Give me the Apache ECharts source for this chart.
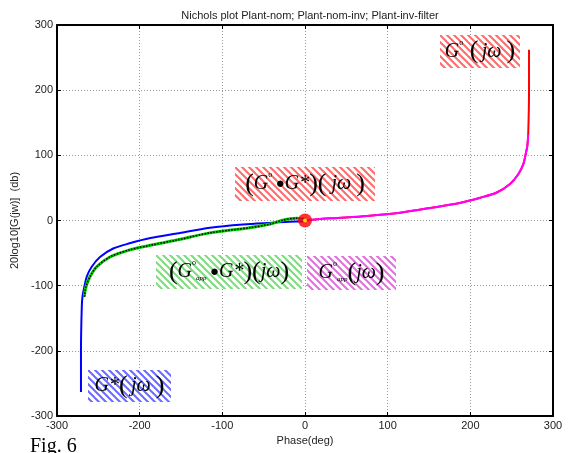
<!DOCTYPE html>
<html>
<head>
<meta charset="utf-8">
<script src="https://cdn.jsdelivr.net/npm/echarts@6/dist/echarts.min.js"></script>
<style>
  html, body { margin: 0; padding: 0; background: #fff; }
  #chart { width: 570px; height: 453px; }
</style>
</head>
<body>
<div id="chart"></div>
<script>
// ---- data ----
// G*(jw) : blue
const bluePhase = [-271, -271, -270, -269, -267, -264, -258, -248, -232, -212, -187, -155, -115, -75, -40, -10, 0]
const blueMag = [-263, -200, -132, -115, -102, -86, -71, -56, -43, -35, -27, -20, -11, -6, -3.5, -1.5, -1.5]

// (G_app * G*)(jw) : green dotted
const greenPhase = [-267, -265, -260, -252, -236, -212, -187, -155, -115, -67, -42, -27, -10, 0]
const greenMag = [-117, -102, -86, -71, -56, -45, -38, -30, -19, -11, -5.5, 0.5, 3.5, 2]

// G(jw) : red
const redPhase = [0, 15, 40, 75, 115, 155, 187, 212, 232, 248, 258, 264, 267, 269, 270, 271, 271]
const redMag = [0, 2, 4, 7, 12, 20, 27, 35, 43, 56, 71, 86, 102, 115, 132, 200, 262]

// G_app(jw) : magenta, same path as red on the lower part
const magentaCount = 15

// point where they meet
const meetPoint = [0, 0]

// annotations: top-left corner in data units
const noteNames = ['G', 'GG', 'GappG', 'Gapp', 'Gstar']
const notePhase = [163, -85, -180, 3, -262]
const noteMag = [285, 82, -53, -55, -229]
const noteWidth = [80, 140, 146, 89, 83]
const noteHeight = [33, 34, 34, 34, 32]

const pairs = (xs, ys) => xs.map((x, i) => [x, ys[i]])

// ---- hatch pattern ----
function hatch(color) {
  const c = document.createElement('canvas')
  c.width = 7
  c.height = 7
  const ctx = c.getContext('2d')
  ctx.fillStyle = '#fff'
  ctx.fillRect(0, 0, 7, 7)
  ctx.strokeStyle = color
  ctx.lineWidth = 2
  for (let k = -7; k <= 7; k += 7) {
    ctx.beginPath()
    ctx.moveTo(k - 1, -1)
    ctx.lineTo(k + 8, 8)
    ctx.stroke()
  }
  return { image: c, repeat: 'repeat' }
}

const SERIF = '"Liberation Serif", "DejaVu Serif", serif'
const SANS = '"Liberation Sans", Arial, sans-serif'
const rich = {
  g: { fontFamily: SERIF, fontStyle: 'italic', fontSize: 20, color: '#111' },
  s: { fontFamily: SERIF, fontSize: 8, color: '#555', verticalAlign: 'top', padding: [0, 0, 12, 0] },
  a: { fontFamily: SERIF, fontStyle: 'italic', fontSize: 7, color: '#555', padding: [12, 0, 0, 0] },
  p: { fontFamily: SERIF, fontSize: 26, color: '#111' },
  d: { fontFamily: SERIF, fontSize: 15, color: '#000' }
}
const noteText = {
  G: '{g|G}{s|o}{p| (} {g|jω }{p|)}',
  GG: '{p|(}{g|G}{s|o} {d|●}{g|G*}{p|)(}{g| jω }{p|)}',
  GappG: '{p|(}{g|G}{s|o}{a|app} {d|●}{g|G*}{p|)(}{g|jω}{p|)}',
  Gapp: '{g|G}{s|o}{a|app}{p|(}{g|jω}{p|)}',
  Gstar: '{g|G*}{p|(} {g|jω }{p|)}'
}
const noteColor = {
  G: '#ff6a6a',
  GG: '#ff6a6a',
  GappG: '#7ddc7d',
  Gapp: '#e070e0',
  Gstar: '#6a6aff'
}

const chart = echarts.init(document.getElementById('chart'))

const axisBase = {
  type: 'value',
  min: -300,
  max: 300,
  interval: 100,
  axisLine: { show: true, onZero: false, lineStyle: { color: '#000', width: 2 } },
  axisTick: { show: true, inside: true, length: 4, lineStyle: { color: '#000' } },
  splitLine: { show: false }
}

chart.setOption({
  animation: false,
  title: {
    text: 'Nichols plot Plant-nom; Plant-nom-inv; Plant-inv-filter',
    left: 305,
    textAlign: 'center',
    top: 5,
    textStyle: { fontFamily: SANS, fontSize: 11, fontWeight: 'normal', color: '#222' }
  },
  grid: { left: 57, right: 17, top: 25, bottom: 37 },
  xAxis: [
    Object.assign({}, axisBase, {
      position: 'bottom',
      name: 'Phase(deg)',
      nameLocation: 'middle',
      nameGap: 19,
      nameTextStyle: { fontFamily: SANS, fontSize: 11, color: '#222' },
      axisLabel: { fontFamily: SANS, fontSize: 11, color: '#222', margin: 4 },
      splitLine: { show: true, lineStyle: { color: '#999', type: [1, 2], width: 1 } }
    }),
    Object.assign({}, axisBase, { position: 'top', axisLabel: { show: false } })
  ],
  yAxis: [
    Object.assign({}, axisBase, {
      position: 'left',
      name: '20log10[G(jw)]  (db)',
      nameLocation: 'middle',
      nameGap: 32,
      nameTextStyle: { fontFamily: SANS, fontSize: 11, color: '#222' },
      axisLabel: { fontFamily: SANS, fontSize: 11, color: '#222', margin: 4 },
      splitLine: { show: true, lineStyle: { color: '#999', type: [1, 2], width: 1 } }
    }),
    Object.assign({}, axisBase, { position: 'right', axisLabel: { show: false } })
  ],
  series: [
    {
      type: 'line', showSymbol: false, smooth: 0.3,
      data: pairs(bluePhase, blueMag),
      lineStyle: { color: '#0000ff', width: 2 }
    },
    {
      type: 'line', showSymbol: false, smooth: 0.3,
      data: pairs(greenPhase, greenMag),
      lineStyle: { color: '#00cc00', width: 3 }
    },
    {
      type: 'line', showSymbol: false, smooth: 0.3,
      data: pairs(greenPhase, greenMag),
      lineStyle: { color: '#000', width: 1.5, type: [1.5, 1.5] }
    },
    {
      type: 'line', showSymbol: false, smooth: 0.3,
      data: pairs(redPhase, redMag),
      lineStyle: { color: '#ff0000', width: 2 }
    },
    {
      type: 'line', showSymbol: false, smooth: 0.3,
      data: pairs(redPhase, redMag).slice(0, magentaCount),
      lineStyle: { color: '#ff00ff', width: 2 }
    },
    {
      type: 'scatter', symbolSize: 14, z: 5,
      data: [meetPoint],
      itemStyle: { color: '#ff0000' }
    },
    {
      type: 'scatter', symbolSize: 4, z: 6,
      data: [meetPoint],
      itemStyle: { color: '#ffff00' }
    }
  ]
})

// annotations placed in data coordinates: hatched box + formula text
const graphics = noteNames.map((key, i) => {
  const pt = chart.convertToPixel({ xAxisIndex: 0, yAxisIndex: 0 }, [notePhase[i], noteMag[i]])
  const w = noteWidth[i]
  const h = noteHeight[i]
  return {
    type: 'group',
    x: Math.round(pt[0]),
    y: Math.round(pt[1]),
    z: 20,
    children: [
      {
        type: 'rect',
        shape: { x: 0, y: 0, width: w, height: h },
        style: { fill: hatch(noteColor[key]) }
      },
      {
        type: 'text',
        x: w / 2,
        y: h / 2,
        style: { text: noteText[key], rich: rich, align: 'center', verticalAlign: 'middle' }
      }
    ]
  }
})
graphics.push({
  type: 'text', left: 30, top: 437,
  style: { text: 'Fig. 6', fontFamily: SERIF, fontSize: 20, fill: '#000' }
})
chart.setOption({ graphic: graphics })
</script>
</body>
</html>
